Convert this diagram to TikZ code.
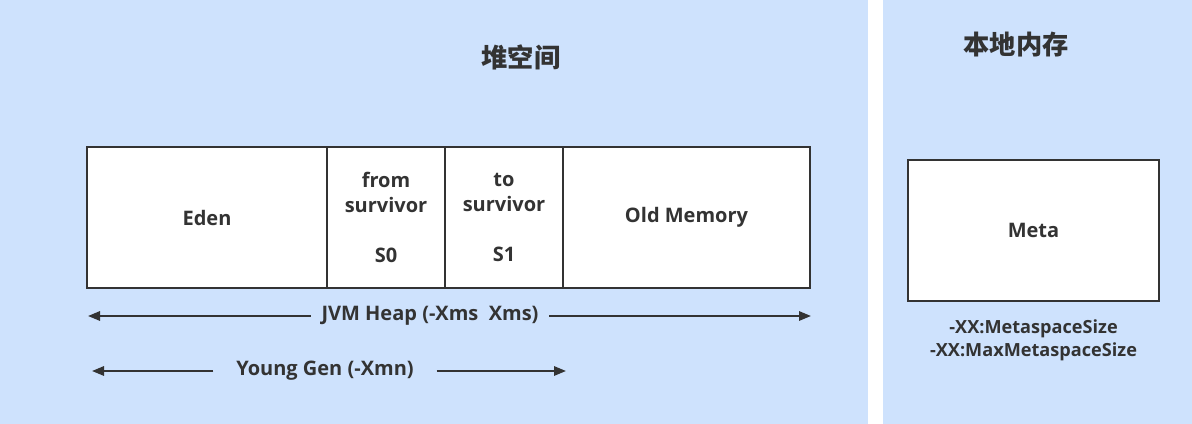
\documentclass[tikz,border=0pt]{standalone}
\usepackage{fontspec}
\setmainfont{Open Sans}
\newfontfamily\cjk{Noto Sans CJK SC}
\usepackage{tikz}
\usetikzlibrary{arrows.meta, positioning}
\usepackage{xcolor}
\definecolor{panelblue}{RGB}{206,226,253}
\definecolor{inkgray}{RGB}{51,51,51}

\begin{document}
\begin{tikzpicture}[
    x=0.75pt, y=-0.75pt,
    font=\bfseries\fontsize{15}{18.75}\selectfont,
    text=inkgray,
    panel/.style={fill=panelblue},
    area/.style={rectangle, draw=inkgray, line width=1.5pt, fill=white, outer sep=0pt, minimum height=105.75pt, align=center, inner sep=0pt},
    title/.style={font=\cjk\bfseries\fontsize{19.7}{22}\selectfont},
    flag/.style={inner sep=0pt, align=center, font=\bfseries\fontsize{13.6}{17.25}\selectfont},
    arrow/.style={-{Triangle[length=9pt, width=7pt]}, line width=1.5pt, draw=inkgray}
]
    \useasboundingbox (0,0) rectangle (1192,424);

    % 背景
    \fill[panel] (0,0) rectangle (868,424);
    \fill[panel] (883,0) rectangle (1192,424);

    % 标题
    \node[title] (heaptitle) at (521,57) {堆空间};
    \node[title] (nativetitle) at (1016,45) {本地内存};

    % 堆空间划分
    \node[area, anchor=north west, minimum width=180pt] (eden) at (87,147) {Eden};
    \node[area, right=0pt of eden, minimum width=88.5pt] (from) {from\\survivor\\[18.75pt]S0};
    \node[area, right=0pt of from, minimum width=88.5pt] (to) {to\\survivor\\[18.75pt]S1};
    \node[area, right=0pt of to, minimum width=185.25pt] (old) {Old Memory};

    % 元空间
    \node[area, anchor=north west, minimum width=188.25pt] (meta) at (908,160) {Meta};
    \node[flag, below=14pt of meta] (metaflags) {-XX:MetaspaceSize\\-XX:MaxMetaspaceSize};

    % 范围标注
    \node[inner sep=8pt] (heaplbl) at (430,316) {JVM Heap (-Xms\ \ Xms)};
    \coordinate (heapL) at (88,316);
    \coordinate (heapR) at (811,316);
    \draw[arrow] (heaplbl.west) -- (heapL);
    \draw[arrow] (heaplbl.east) -- (heapR);

    \node[inner sep=17pt] (younglbl) at (325,371) {Young Gen (-Xmn)};
    \coordinate (youngL) at (92,371);
    \coordinate (youngR) at (566,371);
    \draw[arrow] (younglbl.west) -- (youngL);
    \draw[arrow] (younglbl.east) -- (youngR);
\end{tikzpicture}
\end{document}
